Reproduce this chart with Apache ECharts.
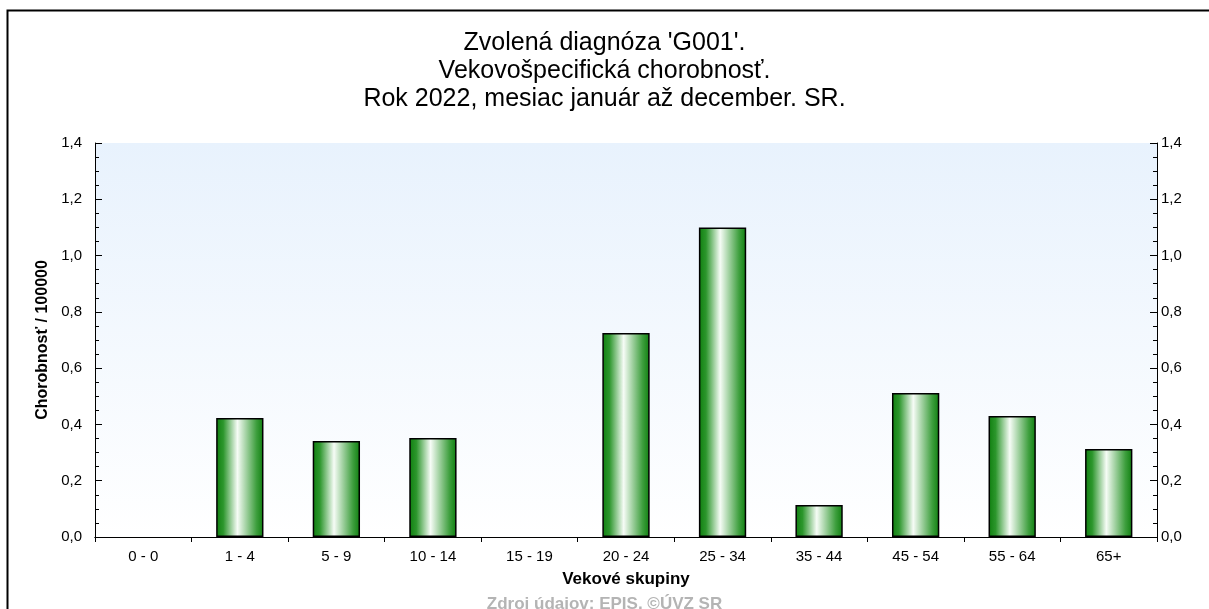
<!DOCTYPE html>
<html>
<head>
<meta charset="utf-8">
<script src="https://cdn.jsdelivr.net/npm/echarts@6/dist/echarts.min.js"></script>
<style>
  html, body { margin: 0; padding: 0; background: #fff; }
  #chart { width: 1209px; height: 609px; }
</style>
</head>
<body>
<div id="chart"></div>
<script>
// vekové skupiny
var categories = ['0 - 0', '1 - 4', '5 - 9', '10 - 14', '15 - 19', '20 - 24', '25 - 34', '35 - 44', '45 - 54', '55 - 64', '65+'];
// chorobnosť na 100000
var values = [0, 0.423, 0.341, 0.352, 0, 0.725, 1.10, 0.114, 0.512, 0.43, 0.313];

var titleLines = ["Zvolená diagnóza 'G001'.", 'Vekovošpecifická chorobnosť.', 'Rok 2022, mesiac január až december. SR.'];
var font = 'Liberation Sans';

var myChart = echarts.init(document.getElementById('chart'));

function yAxisCfg(pos) {
  var left = pos === 'left';
  return {
    type: 'value',
    position: pos,
    min: 0,
    max: 1.4,
    interval: 0.2,
    name: left ? 'Chorobnosť / 100000' : '',
    nameLocation: 'middle',
    nameGap: 44,
    nameTextStyle: { fontFamily: font, fontWeight: 'bold', fontSize: 16, color: '#000' },
    axisLine: { show: true, lineStyle: { color: '#000', width: 1 } },
    axisTick: { show: true, inside: true, length: 7, lineStyle: { color: '#000' } },
    minorTick: { show: true, splitNumber: 4, length: 4, lineStyle: { color: '#000' } },
    splitLine: { show: false },
    axisLabel: {
      fontFamily: font, fontSize: 15, color: '#000', margin: left ? 13 : 4,
      formatter: function (v) { return v.toFixed(1).replace('.', ','); }
    }
  };
}

var option = {
  animation: false,
  title: {
    text: titleLines.join('\n'),
    left: 'center',
    top: 24,
    textStyle: { fontFamily: font, fontSize: 25, fontWeight: 'normal', color: '#000', lineHeight: 28 }
  },
  grid: {
    left: 95, right: 52, top: 143, bottom: 72,
    show: true,
    borderWidth: 0,
    backgroundColor: new echarts.graphic.LinearGradient(0, 0, 0, 1, [
      { offset: 0, color: '#e8f2fd' },
      { offset: 1, color: '#ffffff' }
    ])
  },
  xAxis: [
    {
      type: 'category',
      data: categories,
      position: 'bottom',
      name: 'Vekové skupiny',
      nameLocation: 'middle',
      nameGap: 34,
      nameTextStyle: { fontFamily: font, fontWeight: 'bold', fontSize: 17, color: '#000' },
      axisLine: { lineStyle: { color: '#000', width: 1 } },
      axisTick: { show: true, length: 5, lineStyle: { color: '#000' } },
      axisLabel: { fontFamily: font, fontSize: 15, color: '#000', margin: 12, interval: 0 }
    },
    {
      type: 'category',
      data: categories,
      position: 'top',
      axisLine: { lineStyle: { color: '#000', width: 1 } },
      axisTick: { show: true, inside: true, length: 5, lineStyle: { color: '#000' } },
      axisLabel: { show: false }
    }
  ],
  yAxis: [yAxisCfg('left'), yAxisCfg('right')],
  series: [
    {
      type: 'bar',
      // nulové hodnoty sa nekreslia
      data: values.map(function (v) { return v === 0 ? '-' : v; }),
      barWidth: '49%',
      itemStyle: {
        color: new echarts.graphic.LinearGradient(0, 0, 1, 0, [
          { offset: 0, color: '#0f7f0f' },
          { offset: 0.15, color: '#2c962c' },
          { offset: 0.45, color: '#f6fcf6' },
          { offset: 0.85, color: '#3e9f3e' },
          { offset: 1, color: '#0f7f0f' }
        ]),
        borderColor: '#000',
        borderWidth: 1.5
      }
    }
  ],
  graphic: [
    {
      type: 'polyline',
      shape: { points: [[7.5, 609], [7.5, 10.5], [1209, 10.5]] },
      style: { stroke: '#000', lineWidth: 2, fill: null }
    },
    {
      type: 'text',
      left: 'center',
      top: 596,
      style: { text: 'Zdroj údajov: EPIS, ©ÚVZ SR', fill: '#b4b4b4', font: 'bold 17px "Liberation Sans"' }
    }
  ]
};

option && myChart.setOption(option);
</script>
</body>
</html>
